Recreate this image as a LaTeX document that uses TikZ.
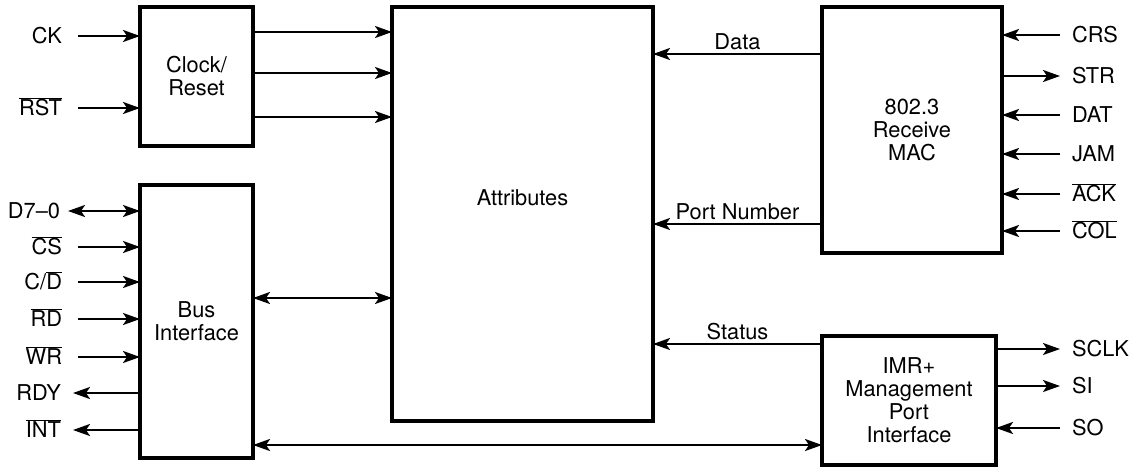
\documentclass[tikz,border=0pt]{standalone}
\usepackage{fontspec}
\setmainfont{TeX Gyre Heros}
\usetikzlibrary{arrows.meta}
\newcommand{\ovl}[1]{$\overline{\mbox{#1}}$}

\begin{document}
\begin{tikzpicture}[x=1pt, y=-1pt,
    >={Stealth[length=17pt, width=12pt, inset=4pt]},
    every node/.style={font=\fontsize{21.8}{23}\selectfont},
    block/.style={draw, line width=4.5pt, outer sep=0pt, align=center},
    sig/.style={line width=2.2pt},
    lpin/.style={anchor=east, inner xsep=16pt, outer sep=0pt, text height=15pt, text depth=0pt},
    rpin/.style={anchor=west, inner xsep=12pt, outer sep=0pt, text height=15pt, text depth=0pt}]
   \useasboundingbox (0,0) rectangle (1139,469);
   % blocks
   \node[block, minimum width=113pt, minimum height=139pt] (clk) at (196.5,76.5) {Clock/\\Reset};
   \node[block, minimum width=113pt, minimum height=273pt] (bus) at (196.5,321.5) {Bus\\Interface};
   \node[block, minimum width=261pt, minimum height=414pt] (attr) at (522.5,214) {};
   \node (attrname) at ([yshift=16pt]attr.center) {Attributes};
   \node[block, minimum width=180pt, minimum height=246pt] (mac) at (912,130) {802.3\\Receive\\MAC};
   \node[block, minimum width=174pt, minimum height=129pt] (imr) at (909,400.5) {IMR+\\Management\\Port\\Interface};
   % clock / reset
   \node[lpin] (ck) at (78,36) {CK};
   \node[lpin] (rst) at (78,108) {\ovl{RST}};
   \draw[sig, ->] (ck) -- (ck -| clk.west);
   \draw[sig, ->] (rst) -- (rst -| clk.west);
   \foreach \y in {32,73,117}
      \draw[sig, ->] (clk.east |- 0,\y) -- (attr.west |- 0,\y);
   % bus interface
   \node[lpin, inner xsep=8pt] (d) at (68,211) {D7--0};
   \draw[sig, <->] (d) -- (d -| bus.west);
   \foreach \n/\y/\t in {cs/247/{\ovl{CS}}, cd/282/{C/\ovl{D}}, rd/319/{\ovl{RD}}, wr/357/{\ovl{WR}}} {
      \node[lpin] (\n) at (78,\y) {\t};
      \draw[sig, ->] (\n) -- (\n -| bus.west);
   }
   \foreach \n/\y/\t in {rdy/393/RDY, int/430/{\ovl{INT}}} {
      \node[lpin, inner xsep=12pt] (\n) at (73,\y) {\t};
      \draw[sig, ->] (\n -| bus.west) -- (\n);
   }
   \draw[sig, <->] (bus.east |- 0,298) -- (attr.west |- 0,298);
   \draw[sig, <->] (bus.east |- 0,445) -- (imr.west |- 0,445);
   % receive MAC
   \draw[sig, ->] (mac.west |- 0,54) -- node[above] {Data} (attr.east |- 0,54);
   \draw[sig, ->] (mac.west |- 0,224) -- node[above] {Port Number} (attr.east |- 0,224);
   \foreach \n/\y/\t in {crs/35/CRS, dat/115/DAT, jam/154/JAM, ack/194/{\ovl{ACK}}, col/231/{\ovl{COL}}} {
      \node[rpin] (\n) at (1060,\y) {\t};
      \draw[sig, ->] (\n) -- (\n -| mac.east);
   }
   \node[rpin] (str) at (1060,76) {STR};
   \draw[sig, ->] (str -| mac.east) -- (str);
   % management port
   \draw[sig, ->] (imr.west |- 0,344) -- node[above] {Status} (attr.east |- 0,344);
   \foreach \n/\y/\t in {sclk/349/SCLK, si/386/SI} {
      \node[rpin] (\n) at (1060,\y) {\t};
      \draw[sig, ->] (\n -| imr.east) -- (\n);
   }
   \node[rpin] (so) at (1060,428) {SO};
   \draw[sig, ->] (so) -- (so -| imr.east);
\end{tikzpicture}
\end{document}
